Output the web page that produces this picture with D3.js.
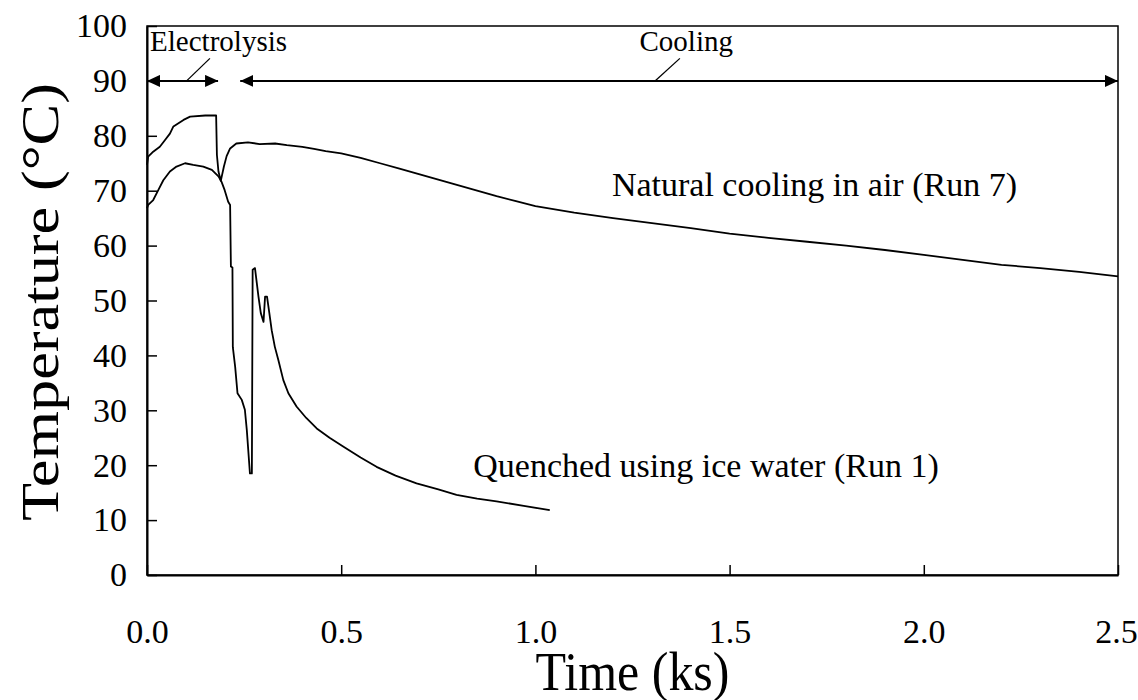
<!DOCTYPE html>
<html>
<head>
<meta charset="utf-8">
<script src="https://cdn.jsdelivr.net/npm/d3@7"></script>
<style>
  html, body { margin: 0; padding: 0; background: #fff; }
  svg text { font-family: "Liberation Serif", "Times New Roman", serif; fill: #000; }
</style>
</head>
<body>
<svg id="chart" width="1138" height="700"></svg>
<script>
// ---- data ----
const timeTicks = [0, 0.5, 1.0, 1.5, 2.0, 2.5];
const tempTicks = [0, 10, 20, 30, 40, 50, 60, 70, 80, 90, 100];

// Run 7 : natural cooling in air
const run7Time = [0, 0.003, 0.016, 0.033, 0.046, 0.059, 0.068, 0.094, 0.111, 0.15, 0.178, 0.18, 0.184, 0.19,
  0.198, 0.205, 0.214, 0.23, 0.26, 0.29, 0.33, 0.36, 0.4, 0.43, 0.46, 0.5, 0.55, 0.6, 0.65, 0.7, 0.75, 0.8,
  0.85, 0.9, 0.95, 1.0, 1.1, 1.2, 1.3, 1.4, 1.5, 1.6, 1.7, 1.8, 1.9, 2.0, 2.1, 2.2, 2.3, 2.4, 2.5];
const run7Temp = [74.7, 76.2, 77.1, 78.0, 79.2, 80.4, 81.7, 82.9, 83.5, 83.7, 83.7, 76.5, 73.5, 71.8,
  74.4, 76.3, 77.7, 78.6, 78.8, 78.5, 78.6, 78.3, 78.0, 77.6, 77.2, 76.8, 76.0, 75.0, 74.0, 73.0, 72.0, 71.0,
  70.0, 69.0, 68.1, 67.2, 66.0, 65.0, 64.1, 63.2, 62.2, 61.4, 60.7, 60.0, 59.2, 58.3, 57.4, 56.5, 55.9, 55.2, 54.4];

// Run 1 : quenched using ice water
const run1Time = [0, 0.003, 0.016, 0.029, 0.042, 0.059, 0.076, 0.098, 0.119, 0.145, 0.167, 0.184, 0.192, 0.2,
  0.209, 0.214, 0.216, 0.22, 0.221, 0.227, 0.233, 0.244, 0.252, 0.257, 0.265, 0.27, 0.272, 0.278, 0.287,
  0.293, 0.3, 0.304, 0.309, 0.315, 0.321, 0.329, 0.338, 0.351, 0.364, 0.385, 0.41, 0.437, 0.47, 0.505,
  0.55, 0.591, 0.64, 0.694, 0.75, 0.797, 0.85, 0.9, 0.97, 1.037];
const run1Temp = [66.8, 67.4, 68.3, 70.1, 71.9, 73.5, 74.4, 75.0, 74.7, 74.4, 73.8, 72.6, 71.6, 70.1,
  68.0, 67.4, 56.2, 56.0, 41.5, 37.9, 33.1, 31.9, 30.1, 26.4, 18.5, 18.5, 55.6, 55.9, 50.7,
  47.7, 46.1, 50.7, 50.7, 47.7, 44.6, 41.6, 39.2, 35.5, 33.1, 30.7, 28.6, 26.7, 25.0, 23.4,
  21.4, 19.7, 18.1, 16.7, 15.6, 14.6, 13.9, 13.4, 12.6, 11.8];

// Phase arrows
const phaseNames = ["Electrolysis", "Cooling"];
const phaseStart = [0, 0.24];
const phaseEnd = [0.183, 2.5];
const phaseLevel = 90;
const phaseLabelTime = [0.008, 1.268];
const phaseLabelTemp = [95.5, 95.5];
const leaderFromTime = [0.162, 1.372];
const leaderToTime = [0.102, 1.308];
const leaderFromTemp = 94.1;

// Curve annotations
const noteTexts = ["Natural cooling in air (Run 7)", "Quenched using ice water (Run 1)"];
const noteTime = [1.197, 0.84];
const noteTemp = [69.0, 17.9];

// ---- layout ----
const FONT = '"Liberation Serif", "Times New Roman", serif';
const svg = d3.select("#chart");
const L = 147, R = 1118, T = 26, B = 575;
const x = d3.scaleLinear().domain([0, 2.5]).range([L, R]);
const y = d3.scaleLinear().domain([0, 100]).range([B, T]);

// frame
svg.append("rect").attr("x", L).attr("y", T).attr("width", R - L).attr("height", B - T)
  .attr("fill", "none").attr("stroke", "#000").attr("stroke-width", 1.5);

// axes
const yAxis = d3.axisLeft(y).tickValues(tempTicks).tickSizeInner(-10).tickSizeOuter(0).tickPadding(20)
  .tickFormat(d3.format("d"));
const gy = svg.append("g").attr("transform", `translate(${L},0)`).call(yAxis);
gy.select(".domain").attr("stroke-width", 2);
gy.selectAll(".tick line").attr("stroke-width", 1.5);
gy.selectAll(".tick text").attr("font-size", 34).style("font-family", FONT);

const xAxis = d3.axisBottom(x).tickValues(timeTicks).tickSizeInner(-10).tickSizeOuter(0).tickPadding(0)
  .tickFormat(d3.format(".1f"));
const gx = svg.append("g").attr("transform", `translate(0,${B})`).call(xAxis);
gx.select(".domain").attr("stroke-width", 2);
gx.selectAll(".tick line").attr("stroke-width", 1.5);
gx.selectAll(".tick text").attr("font-size", 34).style("font-family", FONT)
  .attr("y", 68).attr("dy", 0)
  .attr("dx", (d, i, n) => i === n.length - 1 ? -2 : 0);

// axis titles (source image is slightly stretched vertically)
svg.append("text").attr("transform", `translate(${(L + R) / 2},690) scale(1,1.08)`)
  .attr("text-anchor", "middle").attr("font-size", 50).style("font-family", FONT).text("Time (ks)");
svg.append("text").attr("transform", `translate(58,302) scale(1,1.2) rotate(-90)`)
  .attr("text-anchor", "middle").attr("font-size", 52).style("font-family", FONT).text("Temperature (°C)");

// curves
const line = d3.line().x(d => x(d[0])).y(d => y(d[1]));
const run7 = run7Time.map((t, i) => [t, run7Temp[i]]);
const run1 = run1Time.map((t, i) => [t, run1Temp[i]]);
[run7, run1].forEach(data => {
  svg.append("path").datum(data).attr("d", line).attr("fill", "none")
    .attr("stroke", "#000").attr("stroke-width", 1.8).attr("stroke-linejoin", "round");
});

// arrow markers
const defs = svg.append("defs");
defs.append("marker").attr("id", "ah").attr("viewBox", "0 0 13 12").attr("refX", 13).attr("refY", 6)
  .attr("markerWidth", 13).attr("markerHeight", 12).attr("markerUnits", "userSpaceOnUse")
  .attr("orient", "auto-start-reverse")
  .append("path").attr("d", "M0,0 L13,6 L0,12 Z").attr("fill", "#000");

phaseNames.forEach((name, i) => {
  svg.append("line").attr("x1", x(phaseStart[i])).attr("x2", x(phaseEnd[i]))
    .attr("y1", y(phaseLevel)).attr("y2", y(phaseLevel))
    .attr("stroke", "#000").attr("stroke-width", 2)
    .attr("marker-start", "url(#ah)").attr("marker-end", "url(#ah)");
  svg.append("line").attr("x1", x(leaderFromTime[i])).attr("y1", y(leaderFromTemp))
    .attr("x2", x(leaderToTime[i])).attr("y2", y(phaseLevel))
    .attr("stroke", "#000").attr("stroke-width", 1.3);
  svg.append("text").attr("x", x(phaseLabelTime[i])).attr("y", y(phaseLabelTemp[i]))
    .attr("font-size", 29).style("font-family", FONT).text(name);
});

noteTexts.forEach((txt, i) => {
  svg.append("text").attr("x", x(noteTime[i])).attr("y", y(noteTemp[i]))
    .attr("font-size", 34).style("font-family", FONT).text(txt);
});
</script>
</body>
</html>
